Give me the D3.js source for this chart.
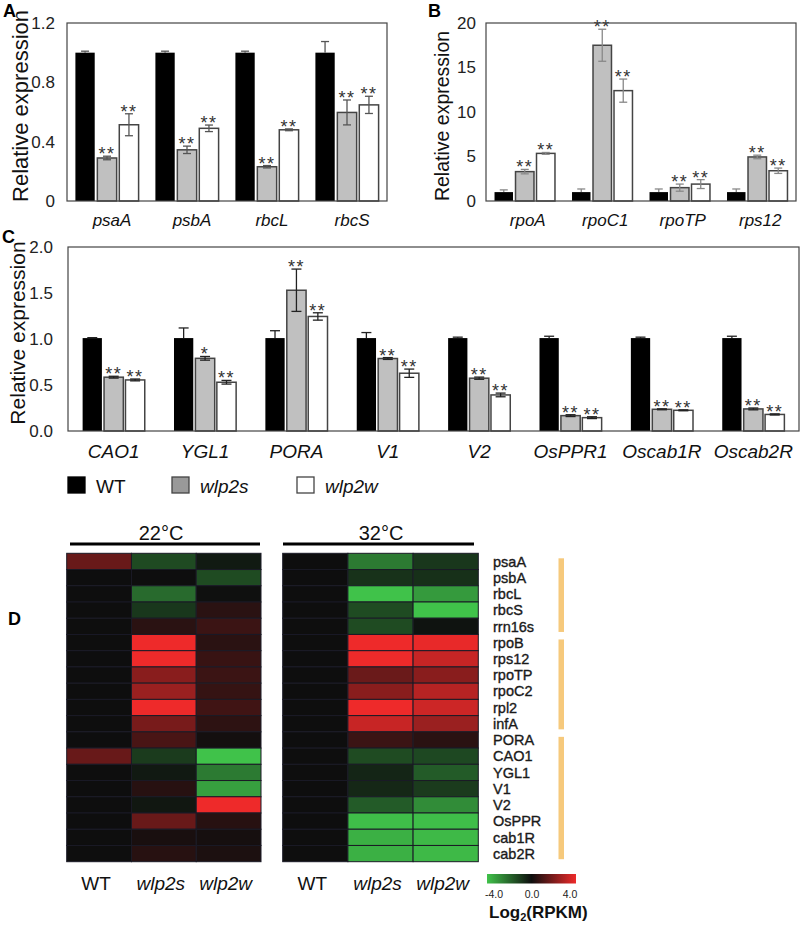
<!DOCTYPE html>
<html><head><meta charset="utf-8">
<script src="https://cdn.jsdelivr.net/npm/d3@7"></script>
<style>body{margin:0;background:#fff} svg{display:block} text{font-family:Arial,"Liberation Sans",sans-serif}</style>
</head><body><svg id="c" width="800" height="925"></svg>
<script>
// ---------- DATA ----------
const series = ["WT", "wlp2s", "wlp2w"];

const genesA = ["psaA", "psbA", "rbcL", "rbcS"];
const meanA_WT = [1.0, 1.0, 1.0, 1.0];
const meanA_s  = [0.29, 0.345, 0.231, 0.597];
const meanA_w  = [0.514, 0.49, 0.48, 0.648];
const errA_WT  = [0.01, 0.01, 0.01, 0.075];
const errA_s   = [0.012, 0.025, 0.008, 0.084];
const errA_w   = [0.074, 0.022, 0.006, 0.058];
const sigA_s   = ["**", "**", "**", "**"];
const sigA_w   = ["**", "**", "**", "**"];
const ticksA   = [0, 0.4, 0.8, 1.2];
const tickLabA = ["0", "0.4", "0.8", "1.2"];

const genesB = ["rpoA", "rpoC1", "rpoTP", "rps12"];
const meanB_WT = [1.0, 1.0, 1.0, 1.0];
const meanB_s  = [3.3, 17.5, 1.5, 4.95];
const meanB_w  = [5.35, 12.4, 1.9, 3.4];
const errB_WT  = [0.25, 0.35, 0.35, 0.35];
const errB_s   = [0.25, 1.8, 0.4, 0.2];
const errB_w   = [0.1, 1.3, 0.5, 0.3];
const sigB_s   = ["**", "**", "**", "**"];
const sigB_w   = ["**", "**", "**", "**"];
const ticksB   = [0, 5, 10, 15, 20];
const tickLabB = ["0", "5", "10", "15", "20"];

const genesC = ["CAO1", "YGL1", "PORA", "V1", "V2", "OsPPR1", "Oscab1R", "Oscab2R"];
const meanC_WT = [1.01, 1.01, 1.01, 1.01, 1.01, 1.01, 1.01, 1.01];
const meanC_s  = [0.585, 0.79, 1.53, 0.788, 0.574, 0.167, 0.236, 0.24];
const meanC_w  = [0.555, 0.53, 1.245, 0.628, 0.392, 0.145, 0.225, 0.18];
const errC_WT  = [0.005, 0.11, 0.08, 0.06, 0.01, 0.02, 0.01, 0.02];
const errC_s   = [0.01, 0.02, 0.23, 0.01, 0.012, 0.01, 0.005, 0.01];
const errC_w   = [0.01, 0.02, 0.04, 0.045, 0.02, 0.01, 0.005, 0.006];
const sigC_s   = ["**", "*", "**", "**", "**", "**", "**", "**"];
const sigC_w   = ["**", "**", "**", "**", "**", "**", "**", "**"];
const ticksC   = [0, 0.5, 1.0, 1.5, 2.0];
const tickLabC = ["0.0", "0.5", "1.0", "1.5", "2.0"];

// Heatmap (log2 RPKM fold)
const hmGenes = ["psaA","psbA","rbcL","rbcS","rrn16s","rpoB","rps12","rpoTP","rpoC2","rpl2","infA",
                 "PORA","CAO1","YGL1","V1","V2","OsPPR","cab1R","cab2R"];
const hmGroup = [0,0,0,0,0,1,1,1,1,1,1,2,2,2,2,2,2,2,2];
const hm22_WT = [1.6,0,0,0,0,0,0,0,0,0,0,0,1.6,0,0,0,0,0,0];
const hm22_s  = [-1.33,0,-2.05,-0.9,0.5,4,4,2.2,2.5,4,1.9,1.05,-1.0,-0.25,0.45,-0.2,1.6,0.2,0.45];
const hm22_w  = [-0.27,-1.35,-0.05,0.5,0.8,0.5,0.75,0.8,0.7,0.9,0.55,0.1,-4,-2.4,-3.25,4,0.45,0.15,0.25];
const hm32_WT = [0,0,0,0,0,0,0,0,0,0,0,0,0,0,0,0,0,0,0];
const hm32_s  = [-2.4,-0.8,-4,-1.35,-1.35,4,4,1.65,2.2,4,3.3,0.8,-1.35,-0.5,-0.55,-1.7,-3.9,-3.6,-3.6];
const hm32_w  = [-0.9,-0.75,-3.1,-4,-0.1,3.9,3.3,2.2,3.0,3.4,2.5,0.5,-1.3,-1.7,-1.0,-2.8,-3.9,-3.8,-3.8];
const cbTicks = [-4, 0, 4];
const cbTickLab = ["-4.0", "0.0", "4.0"];

// ---------- DRAW ----------
const svg = d3.select("#c");
const fills = {WT: "#000", wlp2s: "#c0c0c0", wlp2w: "#fff"};

function barPanel(o) {
  const g = svg.append("g");
  const x0 = d3.scaleBand().domain(o.genes).range([o.x0, o.x1]).paddingInner(o.pad).paddingOuter(o.pad / 2);
  const x1 = d3.scaleBand().domain(series).range([0, x0.bandwidth()]).paddingInner(o.ipad);
  const y = d3.scaleLinear().domain([o.ticks[0], o.ticks[o.ticks.length - 1]]).range([o.y1, o.y0]);
  const rows = [];
  o.genes.forEach((gname, i) => {
    series.forEach((s, j) => {
      rows.push({gene: gname, s, mean: o.means[j][i], err: o.errs[j][i], sig: j === 0 ? "" : o.sigs[j - 1][i]});
    });
  });
  g.selectAll("rect.bar").data(rows).join("rect")
    .attr("x", d => x0(d.gene) + x1(d.s))
    .attr("y", d => y(d.mean))
    .attr("width", x1.bandwidth())
    .attr("height", d => y(0) - y(d.mean))
    .attr("fill", d => fills[d.s])
    .attr("stroke", d => d.s === "WT" ? "#000" : "#444")
    .attr("stroke-width", d => d.s === "WT" ? 0 : 1.5);
  const eb = g.selectAll("g.eb").data(rows).join("g").attr("stroke", o.errColor).attr("stroke-width", 1.3);
  eb.append("line")
    .attr("x1", d => x0(d.gene) + x1(d.s) + x1.bandwidth() / 2)
    .attr("x2", d => x0(d.gene) + x1(d.s) + x1.bandwidth() / 2)
    .attr("y1", d => y(d.mean + d.err))
    .attr("y2", d => y(d.s === "WT" ? d.mean : d.mean - d.err));
  eb.append("line")
    .attr("x1", d => x0(d.gene) + x1(d.s) + x1.bandwidth() / 2 - o.cap)
    .attr("x2", d => x0(d.gene) + x1(d.s) + x1.bandwidth() / 2 + o.cap)
    .attr("y1", d => y(d.mean + d.err)).attr("y2", d => y(d.mean + d.err));
  eb.filter(d => d.s !== "WT").append("line")
    .attr("x1", d => x0(d.gene) + x1(d.s) + x1.bandwidth() / 2 - o.cap)
    .attr("x2", d => x0(d.gene) + x1(d.s) + x1.bandwidth() / 2 + o.cap)
    .attr("y1", d => y(d.mean - d.err)).attr("y2", d => y(d.mean - d.err));
  g.selectAll("text.sig").data(rows.filter(d => d.sig)).join("text")
    .attr("x", d => x0(d.gene) + x1(d.s) + x1.bandwidth() / 2)
    .attr("y", d => y(d.mean + d.err) + 4)
    .attr("text-anchor", "middle").attr("font-size", 18).attr("letter-spacing", 1.5)
    .attr("fill", "#333").text(d => d.sig);
  g.append("rect").attr("x", o.x0).attr("y", o.y0).attr("width", o.x1 - o.x0).attr("height", o.y1 - o.y0)
    .attr("fill", "none").attr("stroke", "#444").attr("stroke-width", 1.2);
  g.selectAll("text.yt").data(o.ticks).join("text")
    .attr("x", o.tickX).attr("y", d => y(d)).attr("dy", "0.35em")
    .attr("text-anchor", "end").attr("font-size", 17).attr("fill", "#222")
    .text((d, i) => o.tickLab[i]);
  g.selectAll("text.xl").data(o.genes).join("text")
    .attr("x", d => x0(d) + x0.bandwidth() / 2 + o.labDx).attr("y", o.labY)
    .attr("text-anchor", "middle").attr("font-size", o.labSize).attr("font-style", "italic")
    .attr("fill", "#111").text(d => d);
  g.append("text").attr("transform", `translate(${o.titleX},${o.titleY}) rotate(-90)`)
    .attr("text-anchor", "middle").attr("dy", "0.35em").attr("font-size", o.titleSize)
    .attr("fill", "#111").text("Relative expression");
  g.append("text").attr("x", o.letterX).attr("y", o.letterY).attr("font-size", 18)
    .attr("font-weight", "bold").text(o.letter);
}

barPanel({genes: genesA, means: [meanA_WT, meanA_s, meanA_w], errs: [errA_WT, errA_s, errA_w], sigs: [sigA_s, sigA_w],
  ticks: ticksA, tickLab: tickLabA, x0: 67, x1: 387, y0: 23, y1: 201, pad: 0.21, ipad: 0.12, cap: 4,
  errColor: "#555", tickX: 55, labY: 226, labDx: 5, labSize: 17, titleX: 20, titleY: 106, titleSize: 22,
  letter: "A", letterX: 3, letterY: 17});
barPanel({genes: genesB, means: [meanB_WT, meanB_s, meanB_w], errs: [errB_WT, errB_s, errB_w], sigs: [sigB_s, sigB_w],
  ticks: ticksB, tickLab: tickLabB, x0: 486, x1: 796, y0: 23, y1: 201, pad: 0.22, ipad: 0.12, cap: 4,
  errColor: "#888", tickX: 476, labY: 226, labDx: 3, labSize: 17, titleX: 442, titleY: 116, titleSize: 19.5,
  letter: "B", letterX: 428, letterY: 17});
barPanel({genes: genesC, means: [meanC_WT, meanC_s, meanC_w], errs: [errC_WT, errC_s, errC_w], sigs: [sigC_s, sigC_w],
  ticks: ticksC, tickLab: tickLabC, x0: 68, x1: 799, y0: 247, y1: 431, pad: 0.32, ipad: 0.1, cap: 5,
  errColor: "#222", tickX: 53, labY: 458, labDx: 0, labSize: 19, titleX: 18, titleY: 333, titleSize: 21,
  letter: "C", letterX: 2, letterY: 243});

// legend
const legX = [68, 172, 297];
const lg = svg.append("g");
series.forEach((s, i) => {
  lg.append("rect").attr("x", legX[i]).attr("y", 477).attr("width", 17).attr("height", 16)
    .attr("fill", s === "wlp2s" ? "#999" : fills[s]).attr("stroke", s === "WT" ? "#000" : "#444").attr("stroke-width", 1.3);
  lg.append("text").attr("x", legX[i] + 28).attr("y", 493).attr("font-size", 19)
    .attr("font-style", s === "WT" ? "normal" : "italic").attr("fill", "#111").text(s);
});

// ---------- Heatmap D ----------
const color = d3.scaleLinear().domain([-4, 0, 4]).range(["#40c24a", "#0e0e0e", "#ee2a2a"]).clamp(true);
const hy = d3.scaleBand().domain(hmGenes).range([553.3, 861.7]);

function heat(x0, x1, cols, title, lineX0, lineX1, titleX) {
  const g = svg.append("g");
  const hx = d3.scaleBand().domain(series).range([x0, x1]);
  const cells = [];
  hmGenes.forEach((gn, i) => series.forEach((s, j) => cells.push({gene: gn, s, v: cols[j][i]})));
  g.selectAll("rect").data(cells).join("rect")
    .attr("x", d => hx(d.s)).attr("y", d => hy(d.gene))
    .attr("width", hx.bandwidth()).attr("height", hy.bandwidth())
    .attr("fill", d => color(d.v)).attr("stroke", "#1a1a26").attr("stroke-width", 1);
  g.append("line").attr("x1", lineX0).attr("x2", lineX1).attr("y1", 544).attr("y2", 544)
    .attr("stroke", "#000").attr("stroke-width", 3);
  g.append("text").attr("x", titleX).attr("y", 540).attr("text-anchor", "middle")
    .attr("font-size", 20).attr("fill", "#111").text(title);
  g.selectAll("text.cl").data(series).join("text")
    .attr("x", d => hx(d) + hx.bandwidth() / 2 - 3).attr("y", 890)
    .attr("text-anchor", "middle").attr("font-size", 19)
    .attr("font-style", d => d === "WT" ? "normal" : "italic").attr("fill", "#111").text(d => d);
}
heat(66.7, 261, [hm22_WT, hm22_s, hm22_w], "22°C", 70, 260, 161);
heat(282.7, 478.3, [hm32_WT, hm32_s, hm32_w], "32°C", 283, 474, 381);

// row labels
svg.append("g").selectAll("text").data(hmGenes).join("text")
  .attr("x", 493).attr("y", d => hy(d) + hy.bandwidth() / 2).attr("dy", "0.36em")
  .attr("font-size", 14.5).attr("fill", "#1a1a1a").attr("stroke", "#1a1a1a").attr("stroke-width", 0.35)
  .text(d => d);

// orange group bars
const groups = d3.groups(hmGenes.map((g, i) => ({g, grp: hmGroup[i]})), d => d.grp);
svg.append("g").selectAll("rect").data(groups).join("rect")
  .attr("x", 558.5).attr("width", 5.5)
  .attr("y", d => hy(d[1][0].g) + 5)
  .attr("height", d => hy(d[1][d[1].length - 1].g) + hy.bandwidth() - 2.5 - (hy(d[1][0].g) + 5))
  .attr("fill", "#f6c97c");

// colour bar
const defs = svg.append("defs");
const grad = defs.append("linearGradient").attr("id", "cb");
d3.range(0, 1.0001, 0.125).forEach(t => grad.append("stop").attr("offset", t).attr("stop-color", color(-4 + 8 * t)));
svg.append("rect").attr("x", 487).attr("y", 874).attr("width", 89).attr("height", 9.5).attr("fill", "url(#cb)");
const cbx = d3.scaleLinear().domain([-4, 4]).range([494, 570]);
svg.append("g").selectAll("text").data(cbTicks).join("text")
  .attr("x", d => cbx(d)).attr("y", 898).attr("text-anchor", "middle").attr("font-size", 10.5)
  .attr("fill", "#222").text((d, i) => cbTickLab[i]);
const lt = svg.append("text").attr("x", 489).attr("y", 918).attr("font-size", 17).attr("font-weight", "bold").attr("fill", "#111");
lt.append("tspan").text("Log");
lt.append("tspan").attr("font-size", 11).attr("dy", 3).text("2");
lt.append("tspan").attr("dy", -3).text("(RPKM)");

svg.append("text").attr("x", 8).attr("y", 625).attr("font-size", 18).attr("font-weight", "bold").text("D");
</script></body></html>
